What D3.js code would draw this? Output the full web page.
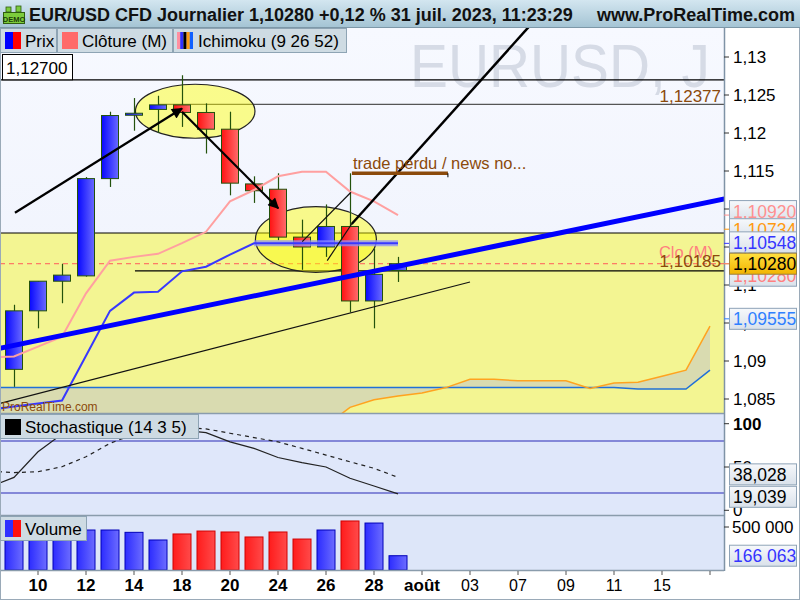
<!DOCTYPE html>
<html><head><meta charset="utf-8">
<script src="https://cdn.jsdelivr.net/npm/d3@7"></script>
<style>body{margin:0;background:#fff}svg{display:block;font-family:"Liberation Sans",Arial,sans-serif}</style>
</head><body><svg id="c" width="800" height="600"></svg>
<script>
// ---------- DATA ----------
const dates = ["07-06","07-07","07-10","07-11","07-12","07-13","07-14","07-17","07-18","07-19","07-20","07-21","07-24","07-25","07-26","07-27","07-28","07-31",
  "08-01","08-02","08-03","08-04","08-07","08-08","08-09","08-10","08-11","08-14","08-15","08-16","08-17"];
const candleDates = ["07-07","07-10","07-11","07-12","07-13","07-14","07-17","07-18","07-19","07-20","07-21","07-24","07-25","07-26","07-27","07-28","07-31"];
const openP  = [1.0889,1.0966,1.1005,1.1012,1.1140,1.1224,1.1231,1.1237,1.1227,1.1205,1.1133,1.1126,1.1063,1.1050,1.1077,1.0979,1.1019];
const highP  = [1.0974,1.1005,1.1028,1.1142,1.1228,1.1246,1.1249,1.1276,1.1239,1.1228,1.1143,1.1147,1.1086,1.1106,1.1147,1.1048,1.1037];
const lowP   = [1.0866,1.0943,1.0976,1.1011,1.1129,1.1203,1.1200,1.1208,1.1173,1.1118,1.1108,1.1059,1.1020,1.1037,1.0964,1.0943,1.1004];
const closeP = [1.0966,1.1005,1.1013,1.1140,1.1223,1.1226,1.1237,1.1227,1.1205,1.1134,1.1124,1.1063,1.1050,1.1077,1.0979,1.1014,1.1028];
const volumes = [470000,480000,470000,465000,465000,438000,349000,419000,453000,442000,384000,442000,360000,465000,570000,546000,166063];
// Ichimoku (dates[0..17] for tenkan/kijun, dates[0..30] for senkou spans)
const tenkan = [1.0905,1.0906,1.0919,1.0932,1.0989,1.1032,1.1037,1.1041,1.1055,1.1070,1.1110,1.1125,1.1143,1.1149,1.1149,1.1123,1.1110,1.1092];
const kijun  = [1.0836,1.0840,1.0844,1.0848,1.0907,1.0966,1.0990,1.0991,1.1018,1.1024,1.1040,1.10548,1.10548,1.10548,1.10548,1.10548,1.10548,1.10548];
const senkouA = [1.0760,1.0762,1.0765,1.0768,1.0770,1.0772,1.0775,1.0778,1.0780,1.0785,1.0790,1.0795,1.0800,1.0808,1.0815,1.0839,1.0849,1.0854,1.0858,1.0865,
  1.0876,1.0876,1.0874,1.0874,1.0874,1.0864,1.0871,1.0872,1.0880,1.0888,1.0946];
const senkouB = [1.0865,1.0865,1.0865,1.0865,1.0865,1.0865,1.0865,1.0865,1.0865,1.0865,1.0865,1.0865,1.0865,1.0865,1.0865,1.0865,1.0865,1.0865,1.0865,1.0865,
  1.0865,1.0865,1.0865,1.0865,1.0865,1.0865,1.0865,1.0863,1.0863,1.0863,1.0888];
// Stochastic (dates[0..17])
const stochK = [27,38,67.6,88,95,97,97,96,92.5,89.6,79,71.5,61,55,50,37,28,19.039];
const stochD = [45.3,43.6,44.5,50.3,61.8,77.3,88,93,96,94,89,84,79,71.5,63.8,56,48.5,38.028];
// axes
const tickDates  = ["07-10","07-12","07-14","07-18","07-20","07-24","07-26","07-28","08-01","08-03","08-07","08-09","08-11","08-15","08-17"];
const tickLabels = ["10","12","14","18","20","24","26","28","août","03","07","09","11","15",""];
const priceTicks = [1.085,1.09,1.095,1.1,1.105,1.11,1.115,1.12,1.125,1.13];
const stochTicks = [0,50,100];
const volTicks = [500000];
// annotations (date index, price)
const arrowLines = [[[1.04,1.10951],[8.0,1.12322]],[[8.0,1.1228],[12.01,1.11009]]];
const plainLines = [[[13.01,1.1057],[15.04,1.1122]],[[14.05,1.1032],[15.07,1.10803]]];
const thickLine = [[15.07,1.10803],[23.0,1.1359]];
const blueTrend = [[0.4,1.09166],[30.6,1.11132]];
const blackTrend = [[0.417,1.08443],[20.0,1.10039]];
const ellipses = [{c:[8.55,1.12286],rx:2.49,ry:0.003553},{c:[13.58,1.10599],rx:2.52,ry:0.004316}];
const hLevels = [{v:1.12700,from:0},{v:1.12377,from:7.0},{v:1.10185,from:6.04}];
const zoneTop = 1.10684;
const tradeLine = {from:15.08,to:19.08,v:1.1147,text:"trade perdu / news no..."};
const lastClose = 1.10280;
const priceBoxes = [{v:1.10920,t:"1,10920"},{v:1.10734,t:"1,10734"},{v:1.10548,t:"1,10548"},{v:1.10280,t:"1,10280"},{v:1.10280,t:"1,10280"},{v:1.09555,t:"1,09555"}];

// ---------- SCALES ----------
const svg = d3.select("#c");
const W = 724;
const x = d3.scaleLinear().domain([0, dates.length - 1]).range([-10, 710]);
const xd = d => x(dates.indexOf(d));
const yP = d3.scaleLinear().domain([1.085, 1.13]).range([399, 57]);
const yS = d3.scaleLinear().domain([0, 100]).range([510.3, 423.7]);
const yV = d3.scaleLinear().domain([0, 500000]).range([570, 527]);
const fmt = v => v.toFixed(5).replace(".", ",");

// ---------- DEFS ----------
const defs = svg.append("defs");
function grad(id, c1, c2, vertical) {
  const g = defs.append("linearGradient").attr("id", id);
  if (vertical) g.attr("x1",0).attr("y1",0).attr("x2",0).attr("y2",1); else g.attr("x1",0).attr("y1",0).attr("x2",1).attr("y2",0);
  g.append("stop").attr("offset","0%").attr("stop-color",c1);
  g.append("stop").attr("offset","100%").attr("stop-color",c2);
}
grad("gUp","#0808ff","#6a6aff"); grad("gDn","#ff1212","#ff6c6c");
grad("vUp","#2c2cff","#6c6cff"); grad("vDn","#ff1c1c","#ff4a4a");
grad("hdr","#d3e6f0","#a3c3d3",true);
grad("box","#f6f8fb","#d9e1ea",true);
grad("gold","#ffe040","#f2b400",true);
grad("mainBg","#f7f9ff","#edf1fc",true);
defs.append("clipPath").attr("id","clipMain").append("rect").attr("x",0).attr("y",28).attr("width",W).attr("height",385);
defs.append("clipPath").attr("id","clipStoch").append("rect").attr("x",0).attr("y",414).attr("width",W).attr("height",101);
defs.append("marker").attr("id","arr").attr("viewBox","0 0 10 10").attr("refX",9).attr("refY",5)
  .attr("markerWidth",6).attr("markerHeight",5).attr("markerUnits","strokeWidth").attr("orient","auto")
  .append("path").attr("d","M0,0 L10,5 L0,10 z").attr("fill","#000");

// ---------- BACKGROUNDS ----------
svg.append("rect").attr("x",0).attr("y",0).attr("width",800).attr("height",600).attr("fill","#fff");
svg.append("rect").attr("x",0).attr("y",28).attr("width",W).attr("height",385).attr("fill","url(#mainBg)");
svg.append("rect").attr("x",0).attr("y",414).attr("width",W).attr("height",101).attr("fill","#dfe7fa");
svg.append("rect").attr("x",0).attr("y",516).attr("width",W).attr("height",54).attr("fill","#dde6f9");

// ---------- MAIN PANEL ----------
const m = svg.append("g").attr("clip-path","url(#clipMain)");
m.append("text").attr("x",410).attr("y",87).attr("font-size",61).attr("fill","#d6dbe6")
  .attr("textLength",300).attr("lengthAdjust","spacingAndGlyphs").text("EURUSD, J");
m.append("rect").attr("x",0).attr("y",yP(zoneTop)).attr("width",W).attr("height",413-yP(zoneTop)).attr("fill","#f3f592");
m.append("line").attr("x1",0).attr("x2",W).attr("y1",yP(zoneTop)).attr("y2",yP(zoneTop)).attr("stroke","#000").attr("stroke-width",1.2);
// cloud
m.append("path").datum(senkouA).attr("fill","#d9dbb0")
  .attr("d", d3.area().x((d,i)=>x(i)).y0((d,i)=>yP(senkouB[i])).y1(d=>yP(d)));
m.append("path").datum(senkouB).attr("fill","none").attr("stroke","#2070d8").attr("stroke-width",1.5)
  .attr("d", d3.line().x((d,i)=>x(i)).y(d=>yP(d)));
m.append("path").datum(senkouA).attr("fill","none").attr("stroke","#ffa31f").attr("stroke-width",1.5)
  .attr("d", d3.line().x((d,i)=>x(i)).y(d=>yP(d)));
// horizontal levels
hLevels.forEach((h,k) => {
  m.append("line").attr("x1",x(h.from)).attr("x2",W).attr("y1",yP(h.v)).attr("y2",yP(h.v))
    .attr("stroke", k===1 ? "#555" : "#000").attr("stroke-width",1.2);
});
m.append("line").attr("x1",0).attr("x2",W).attr("y1",yP(lastClose)).attr("y2",yP(lastClose))
  .attr("stroke","#ff5a5a").attr("stroke-dasharray","5,4").attr("stroke-width",1);
// ellipses
ellipses.forEach(e => {
  m.append("ellipse").attr("cx",x(e.c[0])).attr("cy",yP(e.c[1]))
    .attr("rx",x(e.c[0]+e.rx)-x(e.c[0])).attr("ry",yP(e.c[1]-e.ry)-yP(e.c[1]))
    .attr("fill","rgba(255,255,0,0.45)").attr("stroke","#222").attr("stroke-width",1.2);
});
// candles
const cw = 17;
candleDates.forEach((d,i) => {
  const cx = xd(d), up = closeP[i] >= openP[i];
  m.append("line").attr("x1",cx+0.5).attr("x2",cx+0.5).attr("y1",yP(highP[i])).attr("y2",yP(lowP[i])).attr("stroke","#23520c").attr("stroke-width",1.2);
  const yt = yP(Math.max(openP[i],closeP[i])), yb = yP(Math.min(openP[i],closeP[i]));
  m.append("rect").attr("x",cx-cw/2).attr("y",yt).attr("width",cw).attr("height",Math.max(2,yb-yt))
    .attr("fill", up ? "url(#gUp)" : "url(#gDn)").attr("stroke","#23520c").attr("stroke-width",1);
});
// ichimoku tenkan / kijun
m.append("path").datum(tenkan).attr("fill","none").attr("stroke","#ffa0a0").attr("stroke-width",2)
  .attr("d", d3.line().x((d,i)=>x(i)).y(d=>yP(d)));
m.append("path").datum(kijun.slice(11)).attr("fill","none").attr("stroke","#8e8eff").attr("stroke-width",6).attr("opacity",0.75)
  .attr("d", d3.line().x((d,i)=>x(i+11)).y(d=>yP(d)));
m.append("path").datum(kijun).attr("fill","none").attr("stroke","#3838ff").attr("stroke-width",2)
  .attr("d", d3.line().x((d,i)=>x(i)).y(d=>yP(d)));
// trend lines
const seg = (p) => d3.line().x(q=>x(q[0])).y(q=>yP(q[1]))(p);
m.append("path").attr("d",seg(blueTrend)).attr("stroke","#0000ff").attr("stroke-width",5).attr("fill","none");
m.append("path").attr("d",seg(blackTrend)).attr("stroke","#111").attr("stroke-width",1.2).attr("fill","none");
plainLines.forEach(p => m.append("path").attr("d",seg(p)).attr("stroke","#111").attr("stroke-width",1.2).attr("fill","none"));
m.append("path").attr("d",seg(thickLine)).attr("stroke","#000").attr("stroke-width",2.5).attr("fill","none");
arrowLines.forEach(p => m.append("path").attr("d",seg(p)).attr("stroke","#000").attr("stroke-width",2.2).attr("fill","none").attr("marker-end","url(#arr)"));
// trade perdu
m.append("line").attr("x1",x(tradeLine.from)).attr("x2",x(tradeLine.to)).attr("y1",yP(tradeLine.v)).attr("y2",yP(tradeLine.v))
  .attr("stroke","#8b4a0c").attr("stroke-width",3.5);
m.append("line").attr("x1",x(tradeLine.to)).attr("x2",x(tradeLine.to)).attr("y1",yP(tradeLine.v)).attr("y2",yP(tradeLine.v)+4).attr("stroke","#000").attr("stroke-width",1);
m.append("text").attr("x",x(tradeLine.from)+1).attr("y",yP(tradeLine.v)-4).attr("font-size",16.5).attr("fill","#8b4a0c").text(tradeLine.text);
// level labels
m.append("text").attr("x",721).attr("y",yP(1.12377)-2.5).attr("text-anchor","end").attr("font-size",17).attr("fill","#8b4a0c").text(fmt(1.12377));
m.append("text").attr("x",713).attr("y",yP(1.10185)-12.5).attr("text-anchor","end").attr("font-size",16.5).attr("fill","#ff7f7f").text("Clo (M)");
m.append("text").attr("x",721).attr("y",yP(1.10185)-3.5).attr("text-anchor","end").attr("font-size",17).attr("fill","#8b4a0c").text(fmt(1.10185));
m.append("text").attr("x",2).attr("y",411).attr("font-size",12).attr("fill","#8b4a0c").text("ProRealTime.com");
// 1,12700 box
svg.append("rect").attr("x",2.5).attr("y",54.5).attr("width",70).attr("height",yP(1.127)-54.5).attr("fill","#fff").attr("stroke","#000");
svg.append("text").attr("x",6).attr("y",74).attr("font-size",17).text(fmt(1.127));

// ---------- STOCHASTIC ----------
const s = svg.append("g").attr("clip-path","url(#clipStoch)");
[80,20].forEach(v => s.append("line").attr("x1",0).attr("x2",W).attr("y1",yS(v)).attr("y2",yS(v)).attr("stroke","#2a2ab5").attr("stroke-width",1.2));
s.append("path").datum(stochD).attr("fill","none").attr("stroke","#222").attr("stroke-width",1.2).attr("stroke-dasharray","4,4")
  .attr("d", d3.line().x((d,i)=>x(i)).y(d=>yS(d)));
s.append("path").datum(stochK).attr("fill","none").attr("stroke","#222").attr("stroke-width",1.2)
  .attr("d", d3.line().x((d,i)=>x(i)).y(d=>yS(d)));

// ---------- VOLUME ----------
const vw = 18;
candleDates.forEach((d,i) => {
  const up = closeP[i] >= openP[i];
  svg.append("rect").attr("x",xd(d)-vw/2).attr("y",yV(volumes[i])).attr("width",vw).attr("height",yV(0)-yV(volumes[i]))
    .attr("fill", up ? "url(#vUp)" : "url(#vDn)").attr("stroke", up ? "#0000b8" : "#d00000").attr("stroke-width",1);
});

// ---------- AXES / FRAMES ----------
svg.append("rect").attr("x",W).attr("y",28).attr("width",800-W).attr("height",572).attr("fill","#fff");
svg.append("rect").attr("x",0).attr("y",571).attr("width",W).attr("height",29).attr("fill","#fff");
[413.5,515.5,570.5].forEach(y => svg.append("line").attr("x1",0).attr("x2",W).attr("y1",y).attr("y2",y).attr("stroke","#8a9cac").attr("stroke-width",1.5));
svg.append("line").attr("x1",W+0.5).attr("x2",W+0.5).attr("y1",28).attr("y2",571).attr("stroke","#7f93a6").attr("stroke-width",1.5);
svg.append("line").attr("x1",0.5).attr("x2",0.5).attr("y1",28).attr("y2",571).attr("stroke","#8a9cac").attr("stroke-width",1);
// price axis
priceTicks.forEach(v => {
  svg.append("line").attr("x1",W).attr("x2",W+5).attr("y1",yP(v)).attr("y2",yP(v)).attr("stroke","#333");
  svg.append("text").attr("x",W+9).attr("y",yP(v)+6).attr("font-size",17).attr("fill","#000").text(String(v).replace(".",","));
});
stochTicks.forEach(v => {
  svg.append("line").attr("x1",W).attr("x2",W+5).attr("y1",yS(v)).attr("y2",yS(v)).attr("stroke","#333");
  svg.append("text").attr("x",W+9).attr("y",yS(v)+6).attr("font-size",17).attr("font-weight",v===100?"bold":"normal").text(v);
});
volTicks.forEach(v => {
  svg.append("line").attr("x1",W).attr("x2",W+5).attr("y1",yV(v)).attr("y2",yV(v)).attr("stroke","#333");
  svg.append("text").attr("x",W+8).attr("y",yV(v)+6).attr("font-size",17).text(d3.format(",")(v).replace(/,/g," "));
});
// value boxes
function vbox(yc, txt, color, fill, stroke) {
  svg.append("rect").attr("x",729.5).attr("y",yc-10.5).attr("width",67).attr("height",21).attr("fill",fill||"url(#box)").attr("stroke",stroke||"#8ea3b7");
  svg.append("text").attr("x",733).attr("y",yc+6.5).attr("font-size",17.5).attr("fill",color).text(txt);
}
const boxColors = ["#ff9090","#ff9a10","#3535ff","#000","#ff8080","#2f80ff"];
const boxShift = [-4,0,-1,0,12,0];
const boxTickColors = ["#ff9090","#ff9a10","#3535ff","#d8a000","#ff8080","#2f80ff"];
priceBoxes.forEach((b,i) => svg.append("line").attr("x1",W).attr("x2",W+5).attr("y1",yP(b.v)).attr("y2",yP(b.v)).attr("stroke",boxTickColors[i]));
[0,1,2,4].forEach(i => vbox(yP(priceBoxes[i].v)+boxShift[i], priceBoxes[i].t, boxColors[i]));
vbox(yP(priceBoxes[3].v), priceBoxes[3].t, "#000", "url(#gold)", "#9a8040");
vbox(yP(priceBoxes[5].v), priceBoxes[5].t, boxColors[5]);
vbox(yS(stochD[stochD.length-1])-3, d3.format(".3f")(stochD[stochD.length-1]).replace(".",","), "#000");
vbox(yS(stochK[stochK.length-1])+3, d3.format(".3f")(stochK[stochK.length-1]).replace(".",","), "#000");
vbox(yV(volumes[volumes.length-1]), d3.format(",")(volumes[volumes.length-1]).replace(/,/g," "), "#3535ff");
// x axis
tickDates.forEach((d,i) => {
  const xx = xd(d);
  svg.append("line").attr("x1",xx).attr("x2",xx).attr("y1",571).attr("y2",575).attr("stroke","#555");
  const bold = d.startsWith("07") || tickLabels[i] === "août";
  svg.append("text").attr("x",xx).attr("y",591).attr("text-anchor","middle")
    .attr("font-size",bold?17:16).attr("font-weight",bold?"bold":"normal").text(tickLabels[i]);
});
svg.append("rect").attr("x",0.5).attr("y",0.5).attr("width",799).attr("height",599).attr("fill","none").attr("stroke","#9aaab8");

// ---------- HEADER & LEGENDS ----------
svg.append("rect").attr("x",0).attr("y",0).attr("width",800).attr("height",28).attr("fill","url(#hdr)");
svg.append("line").attr("x1",0).attr("x2",800).attr("y1",27.5).attr("y2",27.5).attr("stroke","#7d98a8");
svg.append("rect").attr("x",3.5).attr("y",12.5).attr("width",21).attr("height",11).attr("fill","#7ccc3c").attr("stroke","#2f5d10");
svg.append("rect").attr("x",6).attr("y",7).attr("width",5).attr("height",5).attr("fill","#7ccc3c").attr("stroke","#2f5d10").attr("stroke-width",0.8);
svg.append("rect").attr("x",16).attr("y",6).attr("width",5).attr("height",6).attr("fill","#7ccc3c").attr("stroke","#2f5d10").attr("stroke-width",0.8);
svg.append("text").attr("x",14).attr("y",21.5).attr("text-anchor","middle").attr("font-size",7.5).attr("font-weight","bold").attr("fill","#1d3f08").text("DEMO");
svg.append("text").attr("x",29).attr("y",21).attr("font-size",18).attr("font-weight","bold").attr("fill","#111")
  .text("EUR/USD CFD Journalier 1,10280 +0,12 % 31 juil. 2023, 11:23:29");
svg.append("text").attr("x",795).attr("y",21).attr("text-anchor","end").attr("font-size",18).attr("font-weight","bold").attr("fill","#111").text("www.ProRealTime.com");

function legBox(x0, w, y0, label) {
  svg.append("rect").attr("x",x0+0.5).attr("y",y0+0.5).attr("width",w).attr("height",24).attr("fill","#cedbe3").attr("stroke","#8ea4b4");
  svg.append("text").attr("x",x0+25).attr("y",y0+19).attr("font-size",17).attr("fill","#000").text(label);
}
legBox(0,56,28,"Prix");
svg.append("rect").attr("x",5).attr("y",32).attr("width",8).attr("height",17).attr("fill","#0000ff");
svg.append("rect").attr("x",13).attr("y",32).attr("width",8).attr("height",17).attr("fill","#ff0000");
legBox(57,115,28,"Clôture (M)");
svg.append("rect").attr("x",62).attr("y",32).attr("width",16).attr("height",17).attr("fill","#ff6a6a");
legBox(173,173,28,"Ichimoku (9 26 52)");
["#ff8fa0","#3030ff","#000000","#ff9a10","#1060ff"].forEach((c,i) =>
  svg.append("rect").attr("x",177+i*3.2).attr("y",32).attr("width",3.2).attr("height",17).attr("fill",c));
legBox(0,198,414,"Stochastique (14 3 5)");
svg.append("rect").attr("x",5).attr("y",419).attr("width",16).attr("height",16).attr("fill","#000");
legBox(0,86,516,"Volume");
svg.append("rect").attr("x",5).attr("y",520).attr("width",8).attr("height",17).attr("fill","#3030ff");
svg.append("rect").attr("x",13).attr("y",520).attr("width",8).attr("height",17).attr("fill","#ff1010");
</script></body></html>
